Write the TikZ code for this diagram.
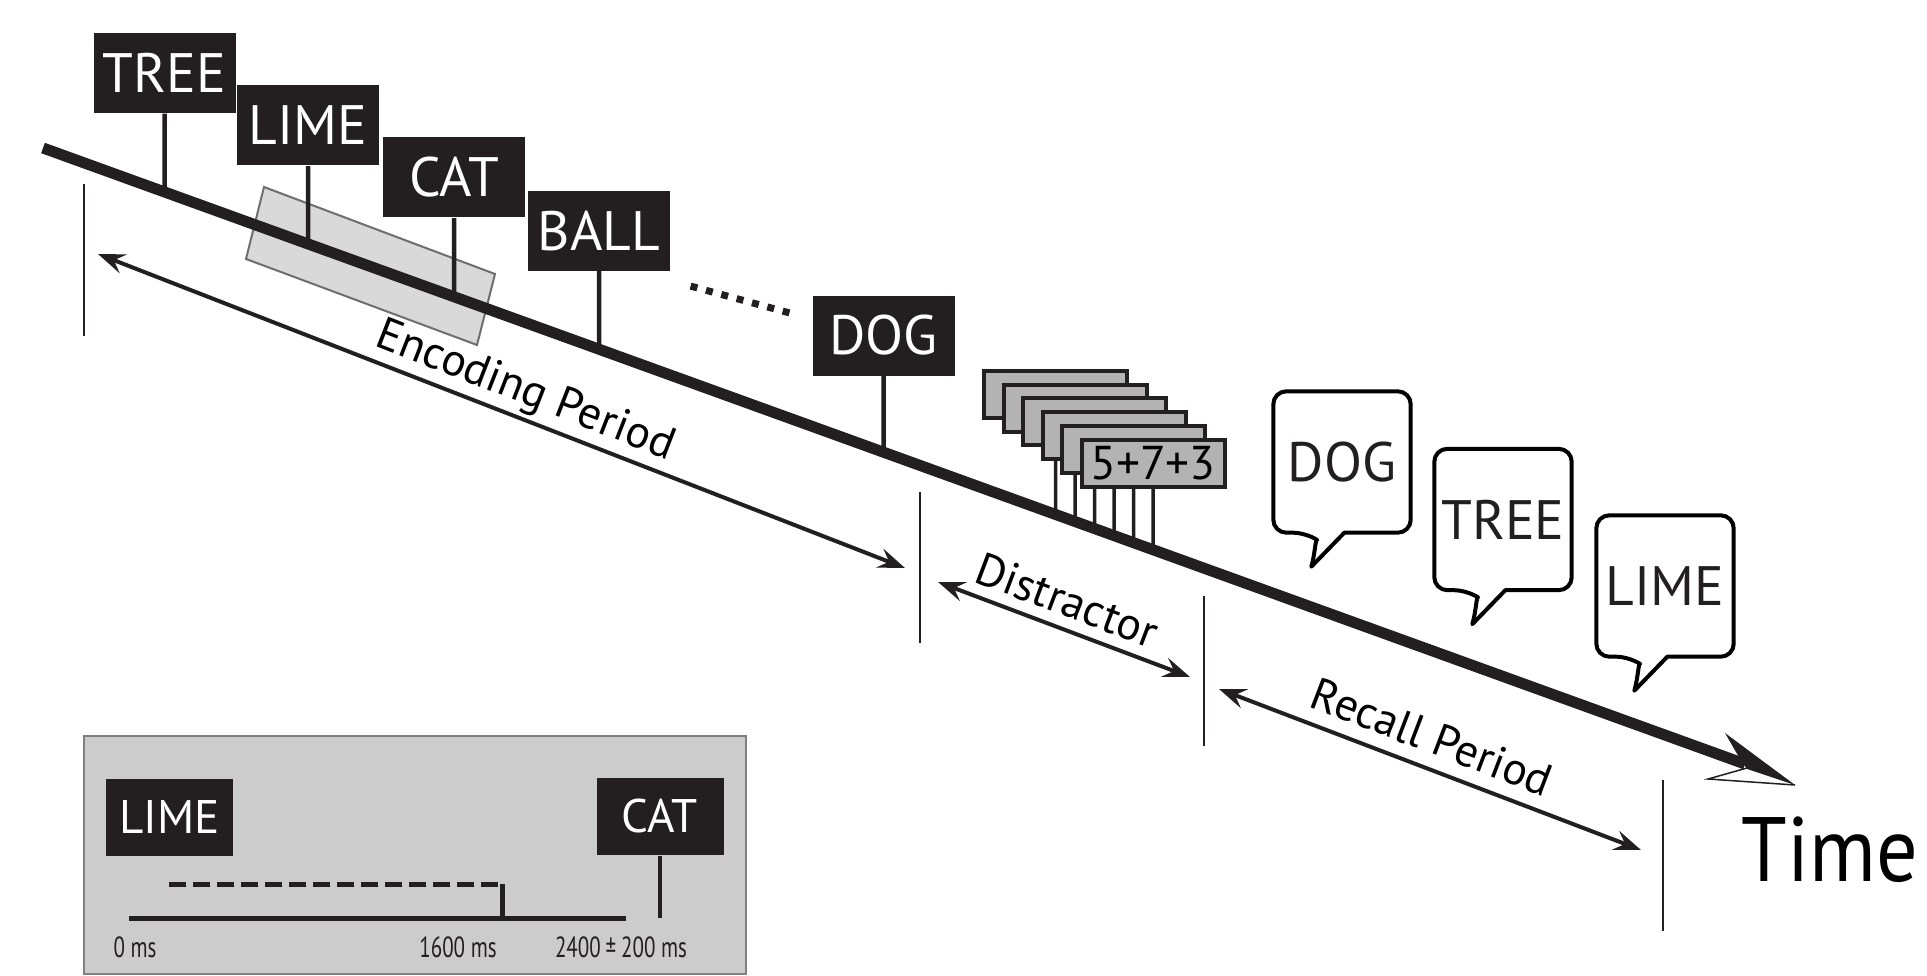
\documentclass[tikz,border=0pt]{standalone}
\usepackage{fontspec}
\setmainfont{PT Sans}
\newfontfamily\narrowfont[FakeStretch=0.72]{PT Sans}
\newfontfamily\timefont[FakeStretch=0.9]{PT Sans}
\usetikzlibrary{arrows.meta}
\definecolor{blk}{RGB}{35,31,32}
\definecolor{boxgray}{RGB}{179,179,179}
\definecolor{focusgray}{RGB}{217,217,217}
\definecolor{focusline}{RGB}{110,110,110}
\definecolor{insetgray}{RGB}{204,204,204}
\definecolor{insetline}{RGB}{128,128,128}

\begin{document}
\begin{tikzpicture}[x=0.1mm, y=-0.1mm,
  word/.style={fill=blk, text=white, inner sep=0, minimum width=14.2mm, minimum height=8mm, font=\fontsize{15.8}{18}\selectfont},
  smallword/.style={word, minimum width=12.7mm, minimum height=7.7mm, font=\fontsize{13.4}{16}\selectfont},
  pole/.style={blk, line width=0.45mm},
  sumbox/.style={draw=blk, fill=boxgray, line width=0.4mm, inner sep=0, minimum width=14.3mm, minimum height=4.7mm, font=\fontsize{13.5}{15}\selectfont},
  sumpole/.style={blk, line width=0.35mm},
  period/.style={blk, line width=0.4mm, >={Stealth[length=2.7mm,width=2mm,inset=1mm]}, <->},
  bound/.style={blk, line width=0.23mm},
  periodtext/.style={font=\fontsize{13}{15}\selectfont},
  said/.style={inner sep=0, minimum width=13.6mm, minimum height=14mm, font=\fontsize{15.8}{18}\selectfont, text=blk},
  bubble/.style={draw=black, line width=0.4mm, fill=white, line join=round},
  msnote/.style={font=\narrowfont\fontsize{8.3}{10}\selectfont, text=blk}
]

\useasboundingbox (0,0) rectangle (1927,975);

% time line
\coordinate (t0) at (43,148);
\coordinate (t1) at (1745,764);

\draw[fill=focusgray, draw=focusline, line width=0.2mm] (264,187) -- (495,274) -- (477,345) -- (246,259) -- cycle;

\node[word] (tree) at (164.5,73) {TREE};
\node[word] (lime) at (308,125.5) {LIME};
\node[word] (cat) at (454,177.5) {CAT};
\node[word] (ball) at (599,230.5) {BALL};
\node[word] (dog) at (883.5,335.5) {DOG};

\draw[pole] (tree.south) -- (intersection of tree.south--tree.north and t0--t1);
\draw[pole] (lime.south) -- (intersection of lime.south--lime.north and t0--t1);
\draw[pole] (cat.south) -- (intersection of cat.south--cat.north and t0--t1);
\draw[pole] (ball.south) -- (intersection of ball.south--ball.north and t0--t1);
\draw[pole] (dog.south) -- (intersection of dog.south--dog.north and t0--t1);

\coordinate (dotA) at (690.6,286.1);
\coordinate (dotB) at (789.4,312.9);
\draw[blk, line width=0.7mm, dash pattern=on 0.7mm off 0.89mm] (dotA) -- (dotB);

% distractor
\node[sumbox] (sum1) at (1055.5,394.5) {};
\draw[sumpole] (sum1.south) -- (intersection of sum1.south--sum1.north and t0--t1);
\node[sumbox] (sum2) at (1075,408.2) {};
\draw[sumpole] (sum2.south) -- (intersection of sum2.south--sum2.north and t0--t1);
\node[sumbox] (sum3) at (1094.5,421.9) {};
\draw[sumpole] (sum3.south) -- (intersection of sum3.south--sum3.north and t0--t1);
\node[sumbox] (sum4) at (1114,435.6) {};
\draw[sumpole] (sum4.south) -- (intersection of sum4.south--sum4.north and t0--t1);
\node[sumbox] (sum5) at (1133.5,449.3) {};
\draw[sumpole] (sum5.south) -- (intersection of sum5.south--sum5.north and t0--t1);
\node[sumbox] (sum6) at (1153,463) {5+7+3};
\draw[sumpole] (sum6.south) -- (intersection of sum6.south--sum6.north and t0--t1);

\draw[blk, line width=1.1mm] (t0) -- (t1);
\draw[blk, fill=white, line width=0.15mm] (1747,768) -- (1708,779) -- (1795,785);
\fill[blk] (1725,733) -- (1795,785) -- (1747,769) -- (1740,759) -- cycle;

% recall
\node[said] (rdog) at (1342,462) {};
\node[said] (rtree) at (1503,519.5) {};
\node[said] (rlime) at (1665,586) {};

\draw[bubble] ([xshift=7.1mm]rdog.south west) [rounded corners=1.3mm] -- (rdog.south east) -- (rdog.north east) -- (rdog.north west) -- (rdog.south west) -- ([xshift=3.3mm]rdog.south west) [sharp corners] .. controls +(0.9mm,-0.6mm) and +(0.4mm,1.4mm) .. ([xshift=3.8mm,yshift=-3.4mm]rdog.south west) -- cycle;
\draw[bubble] ([xshift=7.1mm]rtree.south west) [rounded corners=1.3mm] -- (rtree.south east) -- (rtree.north east) -- (rtree.north west) -- (rtree.south west) -- ([xshift=3.3mm]rtree.south west) [sharp corners] .. controls +(0.9mm,-0.6mm) and +(0.4mm,1.4mm) .. ([xshift=3.8mm,yshift=-3.4mm]rtree.south west) -- cycle;
\draw[bubble] ([xshift=7.1mm]rlime.south west) [rounded corners=1.3mm] -- (rlime.south east) -- (rlime.north east) -- (rlime.north west) -- (rlime.south west) -- ([xshift=3.3mm]rlime.south west) [sharp corners] .. controls +(0.9mm,-0.6mm) and +(0.4mm,1.4mm) .. ([xshift=3.8mm,yshift=-3.4mm]rlime.south west) -- cycle;
\node[said] (sdog) at (rdog) {DOG};
\node[said] (stree) at (rtree) {TREE};
\node[said] (slime) at (rlime) {LIME};

% periods
\coordinate (encA) at (98,254);
\coordinate (encB) at (905,568);
\coordinate (disA) at (938,582);
\coordinate (disB) at (1190,677);
\coordinate (recA) at (1219,689);
\coordinate (recB) at (1641,850);
\draw[period] (encA) -- (encB);
\draw[period] (disA) -- (disB);
\draw[period] (recA) -- (recB);

\draw[bound] (84,184) -- (84,336);
\draw[bound] (920,492) -- (920,643);
\draw[bound] (1204,596) -- (1204,746);
\draw[bound] (1663,780) -- (1663,931);

\node[periodtext, rotate=-21.3] (enctext) at (525,392) {Encoding Period};
\node[periodtext, rotate=-20.7] (distext) at (1067,600) {Distractor};
\node[periodtext, rotate=-20.9] (rectext) at (1432,737) {Recall Period};

\node[font=\timefont\fontsize{26}{30}\selectfont, anchor=base west, inner sep=0] (time) at (1741,881) {Time};

% inset
\node[draw=insetline, fill=insetgray, line width=0.25mm, minimum width=66.2mm, minimum height=23.8mm, inner sep=0] (inset) at (415,855) {};
\node[smallword] (ilime) at (169.5,817.5) {LIME};
\node[smallword] (icat) at (660,816.5) {CAT};
\coordinate (i0) at (129,918);
\coordinate (i1) at (626,918);
\coordinate (h0) at (169,884);
\coordinate (h1) at (502,884);
\draw[blk, line width=0.5mm] (i0) -- (i1);
\draw[blk, line width=0.5mm, dash pattern=on 1.65mm off 0.75mm] (h0) -- (h1);
\draw[blk, line width=0.5mm] (h1) -- (h1 |- i0);
\draw[blk, line width=0.45mm] (icat.south) -- (icat.south |- i0);
\node[msnote] (zero) at (135,947) {0 ms};
\node[msnote] (mid) at (458,947) {1600 ms};
\node[msnote] (last) at (621,947) {2400\,±\,200 ms};

\end{tikzpicture}
\end{document}
